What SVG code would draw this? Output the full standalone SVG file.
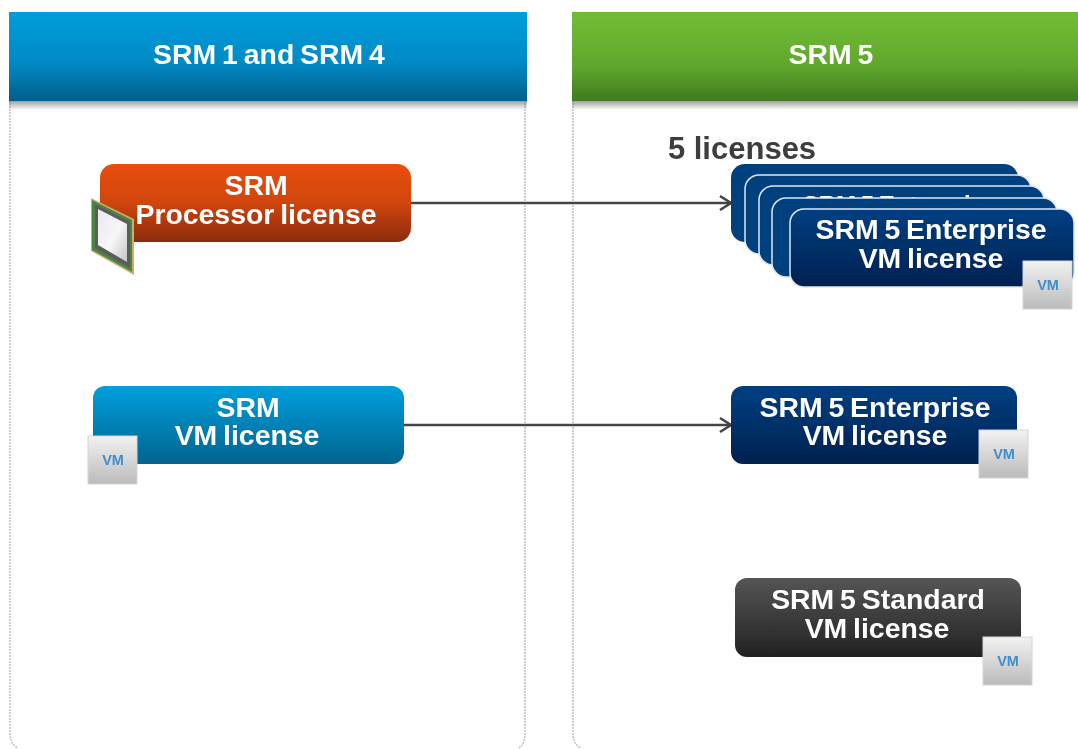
<svg xmlns="http://www.w3.org/2000/svg" width="1078" height="749" viewBox="0 0 1078 749">
<style>
text{font-family:"Liberation Sans",Arial,sans-serif;font-weight:700;text-anchor:middle}
.w{fill:#fff;font-size:28.4px;word-spacing:-2px}
.p{fill:none;stroke:#c4c4c4;stroke-width:1.6;stroke-dasharray:2 1}
.c{stroke:#444;stroke-width:2.4;fill:none}
.vmt{fill:#3f8ec9;font-size:14.5px}
.e{stroke:#dfe8f1;stroke-width:1.5}
</style>
<defs>
<filter id="soft" filterUnits="userSpaceOnUse" x="-5" y="-5" width="1090" height="760"><feGaussianBlur stdDeviation="0.5"/></filter>
<linearGradient id="gb" x1="0" y1="0" x2="0" y2="1"><stop offset="0" stop-color="#019ddc"/><stop offset=".55" stop-color="#018bc6"/><stop offset="1" stop-color="#025f8b"/></linearGradient>
<linearGradient id="gg" x1="0" y1="0" x2="0" y2="1"><stop offset="0" stop-color="#72bd36"/><stop offset=".6" stop-color="#60a82d"/><stop offset="1" stop-color="#3e7a20"/></linearGradient>
<linearGradient id="go" x1="0" y1="0" x2="0" y2="1"><stop offset="0" stop-color="#e84f10"/><stop offset=".5" stop-color="#d0450d"/><stop offset="1" stop-color="#8a2b07"/></linearGradient>
<linearGradient id="gc" x1="0" y1="0" x2="0" y2="1"><stop offset="0" stop-color="#019fdd"/><stop offset="1" stop-color="#03648f"/></linearGradient>
<linearGradient id="gn" x1="0" y1="0" x2="0" y2="1"><stop offset="0" stop-color="#003f83"/><stop offset="1" stop-color="#01214f"/></linearGradient>
<linearGradient id="gd" x1="0" y1="0" x2="0" y2="1"><stop offset="0" stop-color="#555"/><stop offset="1" stop-color="#222"/></linearGradient>
<linearGradient id="gv" x1="0" y1="0" x2="0" y2="1"><stop offset="0" stop-color="#f2f2f2"/><stop offset="1" stop-color="#bbb"/></linearGradient>
<linearGradient id="gs" x1="0" y1="0" x2="0" y2="1"><stop offset="0" stop-color="#777" stop-opacity=".7"/><stop offset="1" stop-color="#777" stop-opacity="0"/></linearGradient>
<linearGradient id="gchip" x1="0" y1="0" x2="1" y2="1"><stop offset="0" stop-color="#e9e9f2"/><stop offset=".55" stop-color="#f7f7f7"/><stop offset="1" stop-color="#c4c4c4"/></linearGradient>
<marker id="arrow" markerWidth="16" markerHeight="18" refX="14" refY="9" orient="auto" markerUnits="userSpaceOnUse"><path d="M3 2 L14 9 L3 16" fill="none" stroke="#444" stroke-width="2.6"/></marker>
<g id="vmbadge"><rect width="49" height="48" fill="url(#gv)" stroke="#d5d5d5"/><text x="25" y="29" class="vmt">VM</text></g>
</defs>

<rect width="1078" height="749" fill="#fff"/>
<g filter="url(#soft)">
<g id="panel-left">
<path class="p" d="M10 100V734Q10 744 18 748M525 100V734Q525 744 519 748"/>
<rect x="9" y="101" width="518" height="9" fill="url(#gs)"/>
<rect x="9" y="12" width="518" height="89" fill="url(#gb)"/>
<text x="269" y="64" class="w">SRM 1 and SRM 4</text>
</g>
<g id="panel-right">
<path class="p" d="M573 100V734Q573 744 581 748"/>
<rect x="572" y="101" width="510" height="9" fill="url(#gs)"/>
<rect x="572" y="12" width="510" height="89" fill="url(#gg)"/>
<text x="831" y="64" class="w">SRM 5</text>
</g>

<g id="connectors">
<path class="c" d="M411 203H731" marker-end="url(#arrow)"/>
<path class="c" d="M404 425H731" marker-end="url(#arrow)"/>
</g>

<g id="node-processor">
<rect x="100" y="164" width="311" height="78" rx="14" fill="url(#go)"/>
<text x="256" y="195" class="w">SRM</text>
<text x="256" y="224" class="w">Processor license</text>
<g id="chip">
<polygon points="91,198 134,219 134,275 91,251" fill="#c9b06b"/>
<polygon points="92,200 132,220 132,272 92,250" fill="#4d8444"/>
<polygon points="95,204 130,222 130,268 95,248" fill="#5c5c5c"/>
<polygon points="98,209 127,224 127,262 98,245" fill="url(#gchip)"/>
</g>
</g>

<g id="node-vm">
<rect x="93" y="386" width="311" height="78" rx="12" fill="url(#gc)"/>
<text x="248" y="417" class="w">SRM</text>
<text x="247" y="445" class="w">VM license</text>
<use href="#vmbadge" x="88" y="436"/>
</g>

<text id="label-5-licenses" x="742" y="159" fill="#3c3c3c" font-size="31">5 licenses</text>

<g id="node-stack">
<rect x="731" y="164" width="287" height="78" rx="14" fill="#04417f"/>
<rect x="745" y="175" width="286" height="79" rx="14" fill="#04417f" class="e"/>
<rect x="759" y="186" width="285" height="79" rx="14" fill="#04417f" class="e"/>
<text x="900" y="213" class="w" style="font-size:24px">SRM 5 Enterprise</text>
<rect x="772" y="198" width="285" height="79" rx="14" fill="#04417f" class="e"/>
<rect x="790" y="209" width="284" height="78" rx="14" fill="url(#gn)" class="e"/>
<text x="931" y="239" class="w">SRM 5 Enterprise</text>
<text x="931" y="268" class="w">VM license</text>
<use href="#vmbadge" x="1023" y="261"/>
</g>

<g id="node-enterprise">
<rect x="731" y="386" width="286" height="78" rx="12" fill="url(#gn)"/>
<text x="875" y="417" class="w">SRM 5 Enterprise</text>
<text x="875" y="445" class="w">VM license</text>
<use href="#vmbadge" x="979" y="430"/>
</g>

<g id="node-standard">
<rect x="735" y="578" width="286" height="79" rx="12" fill="url(#gd)"/>
<text x="878" y="609" class="w">SRM 5 Standard</text>
<text x="877" y="638" class="w">VM license</text>
<use href="#vmbadge" x="983" y="637"/>
</g>
</g>
</svg>
